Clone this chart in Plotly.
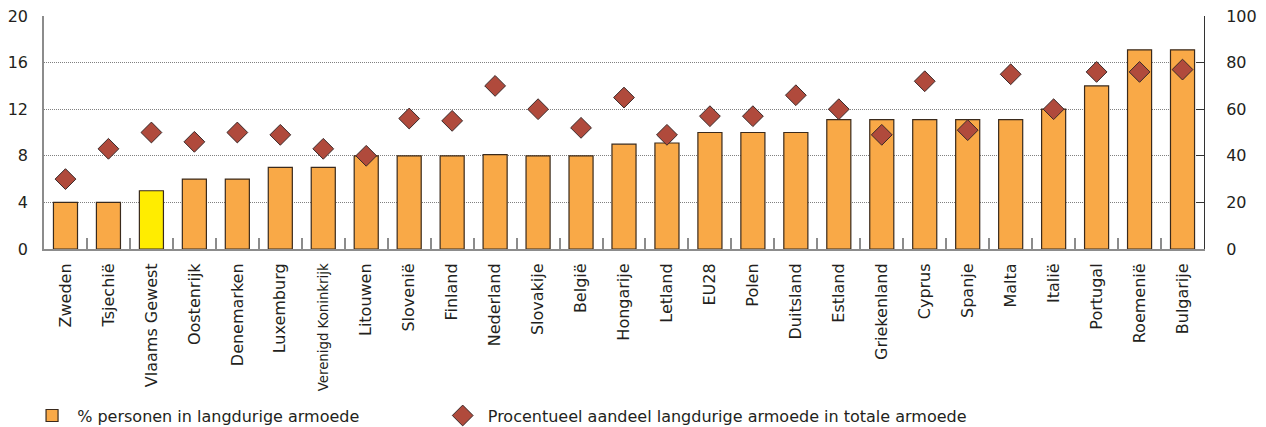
import plotly.graph_objects as go

categories = ["Zweden", "Tsjechië", "Vlaams Gewest", "Oostenrijk", "Denemarken", "Luxemburg",
              "Verenigd Koninkrijk", "Litouwen", "Slovenië", "Finland", "Nederland", "Slovakije",
              "België", "Hongarije", "Letland", "EU28", "Polen", "Duitsland", "Estland",
              "Griekenland", "Cyprus", "Spanje", "Malta", "Italië", "Portugal", "Roemenië", "Bulgarije"]
persons_pct = [4.0, 4.0, 5.0, 6.0, 6.0, 7.0, 7.0, 8.0, 8.0, 8.0, 8.1, 8.0, 8.0, 9.0, 9.1, 10.0,
               10.0, 10.0, 11.1, 11.1, 11.1, 11.1, 11.1, 12.0, 14.0, 17.1, 17.1]
share_pct = [30, 43, 50, 46, 50, 49, 43, 40, 56, 55, 70, 60, 52, 65, 49, 57, 57, 66, 60,
             49, 72, 51, 75, 60, 76, 76, 77]
left_ticks = [0, 4, 8, 12, 16, 20]
right_ticks = [0, 20, 40, 60, 80, 100]
series_names = ["% personen in langdurige armoede",
                "Procentueel aandeel langdurige armoede in totale armoede"]

highlight = "Vlaams Gewest"
small_label = "Verenigd Koninkrijk"
bar_colors = ["#FFED00" if c == highlight else "#F9A947" for c in categories]
tick_text = [f'<span style="font-size:13.3px">{c}</span>' if c == small_label else c
             for c in categories]

FONT = "DejaVu Sans"
TXT = "#231F20"
FS = 16

fig = go.Figure()
fig.add_trace(go.Bar(
    x=categories, y=persons_pct, name="\u00a0" + series_names[0],
    marker=dict(color=bar_colors, line=dict(color="#3A2A1C", width=1.2)),
    yaxis="y", legend="legend",
))
fig.add_trace(go.Scatter(
    x=categories, y=share_pct, mode="markers",
    name="\u00a0" + series_names[1],
    marker=dict(symbol="diamond", size=16, color="#B04A3C", line=dict(color="#3A2A2A", width=1)),
    yaxis="y2", legend="legend2",
))
legend_common = dict(orientation="h", xanchor="left", yanchor="top",
                     font=dict(size=FS, family=FONT, color=TXT), bgcolor="rgba(0,0,0,0)")
fig.update_layout(
    width=1266, height=427,
    margin=dict(l=44, r=62, t=16, b=178, autoexpand=False),
    plot_bgcolor="white", paper_bgcolor="white",
    font=dict(family=FONT, color=TXT, size=FS),
    bargap=0.44,
    showlegend=True,
    legend=dict(x=-0.0103, y=-0.642, **legend_common),
    legend2=dict(x=0.3437, y=-0.642, **legend_common),
    xaxis=dict(
        type="category", tickangle=-90, tickfont=dict(size=FS, family=FONT, color=TXT),
        tickmode="array", tickvals=categories, ticktext=tick_text,
        showline=True, linecolor="#8C8C8C", linewidth=2,
        ticks="inside", tickson="boundaries", ticklen=11, tickcolor="#8C8C8C", tickwidth=1.5,
        showgrid=False, range=[-0.5, len(categories) - 0.5], ticklabelstandoff=6,
    ),
    yaxis=dict(
        range=[0, 20], tickvals=left_ticks, tickfont=dict(size=FS, family=FONT, color=TXT),
        showline=True, linecolor="#8C8C8C", linewidth=1.5,
        showgrid=True, gridcolor="#808080", griddash="1px,1px", gridwidth=1,
        zeroline=False, ticks="", ticklabelstandoff=11,
    ),
    yaxis2=dict(
        range=[0, 100], tickvals=right_ticks, overlaying="y", side="right",
        tickfont=dict(size=FS, family=FONT, color=TXT),
        showline=True, linecolor="#333333", linewidth=1,
        showgrid=False, zeroline=False, ticks="inside", ticklen=8, tickcolor="#333333",
        ticklabelstandoff=18,
    ),
)
fig.write_html("out.html", config={"displayModeBar": False},
               post_script="document.body.style.margin='0';document.body.style.overflow='hidden';")
